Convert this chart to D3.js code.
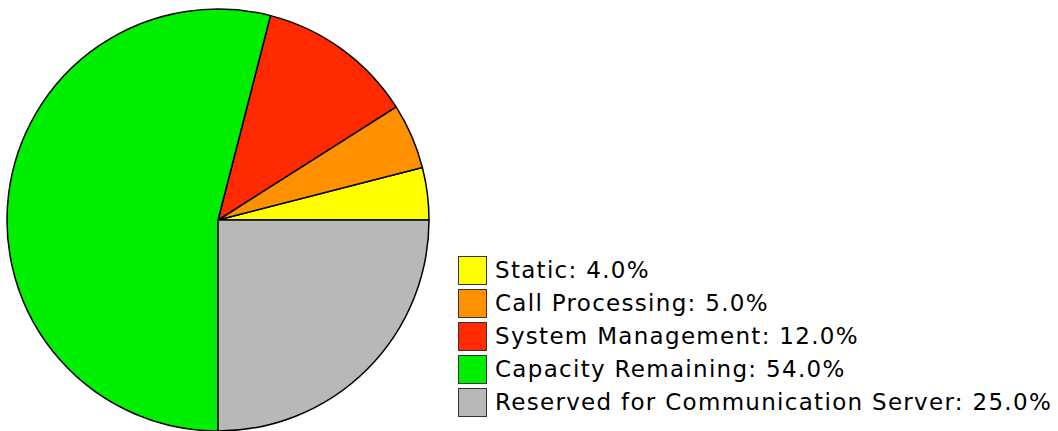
<!DOCTYPE html>
<html><head><meta charset="utf-8">
<script src="https://cdn.jsdelivr.net/npm/d3@7"></script>
<style>body{margin:0;background:#fff}svg{display:block}</style>
</head><body>
<svg id="c" width="1058" height="431"></svg>
<script>
const categories = ["Static", "Call Processing", "System Management", "Capacity Remaining", "Reserved for Communication Server"];
const values = [4.0, 5.0, 12.0, 54.0, 25.0];
const colors = ["#FFFF00", "#FF9000", "#FF2A00", "#00EE00", "#B8B8B8"];

const svg = d3.select("#c");
const cx = 218, cy = 220, r = 211;
const pie = d3.pie().sort(null).value(d => d)
  .startAngle(Math.PI / 2).endAngle(Math.PI / 2 - 2 * Math.PI);
const arc = d3.arc().innerRadius(0).outerRadius(r);
const g = svg.append("g").attr("transform", `translate(${cx},${cy})`);
g.selectAll("path").data(pie(values)).join("path")
  .attr("d", arc).attr("fill", (d, i) => colors[i])
  .attr("stroke", "#000").attr("stroke-width", 1.5).attr("stroke-linejoin", "round");

const y = d3.scaleBand().domain(categories).range([253, 418]);
const lg = svg.append("g");
const items = lg.selectAll("g").data(categories).join("g")
  .attr("transform", d => `translate(458,${y(d)})`);
items.append("rect").attr("x", 0.5).attr("y", 3.5).attr("width", 28).attr("height", 28)
  .attr("fill", (d, i) => colors[i]).attr("stroke", "#333").attr("stroke-width", 1);
items.append("text").attr("x", 37).attr("y", 25)
  .style("font-family", "DejaVu Sans").style("font-size", "23px")
  .style("letter-spacing", "1.3px").attr("fill", "#000")
  .text((d, i) => `${d}: ${values[i].toFixed(1)}%`);
</script>
</body></html>
